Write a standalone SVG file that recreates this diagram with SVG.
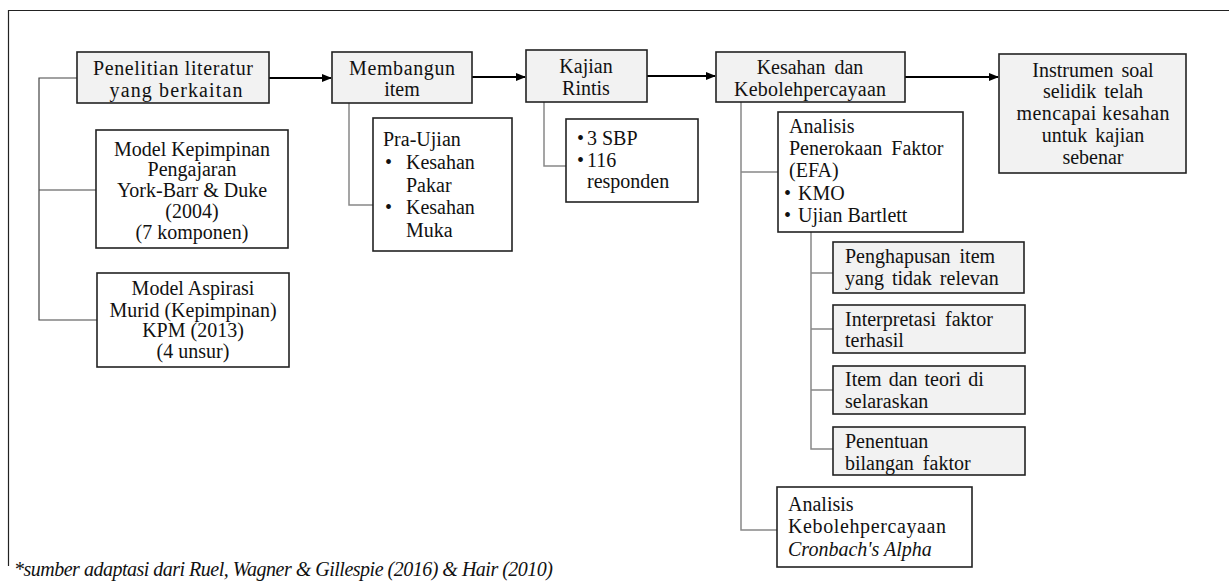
<svg xmlns="http://www.w3.org/2000/svg" width="1229" height="581" viewBox="0 0 1229 581">
<defs>
<marker id="ah" markerWidth="10" markerHeight="8" refX="9" refY="4" orient="auto" markerUnits="userSpaceOnUse">
<path d="M0,0 L10,4 L0,8 Z" fill="#000"/>
</marker>
<style>
text{font-size:20px;fill:#111}
.c{text-anchor:middle}
.g{fill:#f2f2f2;stroke:#222;stroke-width:1.6}
.w{fill:#fff;stroke:#222;stroke-width:1.6}
.arr{stroke:#000;stroke-width:2;fill:none;marker-end:url(#ah)}
.ln{stroke:#888;stroke-width:1.5;fill:none}
.ld{stroke:#444;stroke-width:1.2;fill:none}
.i{font-style:italic}
</style>
</defs>
<rect width="1229" height="581" fill="#fff"/>
<path d="M8.5,566 L8.5,10.5 L1240,10.5" fill="none" stroke="#222" stroke-width="1.2"/>

<g id="connectors">
<path class="arr" d="M269,78 L331,78"/>
<path class="arr" d="M472,77 L525,77"/>
<path class="arr" d="M647,76 L715,76"/>
<path class="arr" d="M905,77 L998,77"/>
<path class="ld" d="M77,78 L39,78 L39,320 L97,320 M39,190 L96,190"/>
<path class="ln" d="M349,103 L349,205 L373,205"/>
<path class="ln" d="M544,102 L544,166 L566,166"/>
<path class="ln" d="M741,102 L741,530 L777,530 M741,172 L778,172"/>
<path class="ln" d="M811,232 L811,449 L833,449 M811,273 L833,273 M811,329 L833,329 M811,390 L833,390"/>
</g>

<g font-family="'Liberation Serif', 'Times New Roman', Times, serif">
<g id="n-penelitian"><rect class="g" x="77" y="52" width="192" height="51"/>
<text class="c" x="173" y="75" textLength="160" lengthAdjust="spacing">Penelitian literatur</text>
<text class="c" x="176" y="97" textLength="133" lengthAdjust="spacing">yang berkaitan</text></g>

<g id="n-kepimpinan"><rect class="w" x="96" y="130" width="192" height="118"/>
<text class="c" x="192" y="156" textLength="156" lengthAdjust="spacing">Model Kepimpinan</text>
<text class="c" x="192" y="176">Pengajaran</text>
<text class="c" x="192" y="197">York-Barr &amp; Duke</text>
<text class="c" x="192" y="218">(2004)</text>
<text class="c" x="192" y="239">(7 komponen)</text></g>

<g id="n-aspirasi"><rect class="w" x="97" y="273" width="192" height="94"/>
<text class="c" x="193" y="295">Model Aspirasi</text>
<text class="c" x="193" y="317">Murid (Kepimpinan)</text>
<text class="c" x="193" y="337">KPM (2013)</text>
<text class="c" x="193" y="358">(4 unsur)</text></g>

<g id="n-membangun"><rect class="g" x="332" y="52" width="140" height="51"/>
<text class="c" x="402" y="75" textLength="106" lengthAdjust="spacing">Membangun</text>
<text class="c" x="402" y="96">item</text></g>

<g id="n-praujian"><rect class="w" x="373" y="118" width="139" height="133"/>
<text x="383" y="146">Pra-Ujian</text>
<text x="385" y="169">•</text><text x="406" y="169">Kesahan</text>
<text x="406" y="192">Pakar</text>
<text x="385" y="214">•</text><text x="406" y="214">Kesahan</text>
<text x="406" y="237">Muka</text></g>

<g id="n-kajian"><rect class="g" x="526" y="50" width="121" height="52"/>
<text class="c" x="586" y="73">Kajian</text>
<text class="c" x="586" y="95">Rintis</text></g>

<g id="n-sbp"><rect class="w" x="566" y="119" width="132" height="83"/>
<text x="577" y="145">•</text><text x="587" y="145">3 SBP</text>
<text x="577" y="167">•</text><text x="587" y="167">116</text>
<text x="587" y="188">responden</text></g>

<g id="n-kesahan"><rect class="g" x="716" y="52" width="189" height="50"/>
<text class="c" x="810" y="74" word-spacing="4">Kesahan dan</text>
<text class="c" x="810" y="96" textLength="152" lengthAdjust="spacing">Kebolehpercayaan</text></g>

<g id="n-instrumen"><rect class="g" x="999" y="54" width="187" height="119"/>
<text class="c" x="1093" y="77" word-spacing="3">Instrumen soal</text>
<text class="c" x="1093" y="98" word-spacing="3">selidik telah</text>
<text class="c" x="1093" y="120" textLength="153" lengthAdjust="spacing">mencapai kesahan</text>
<text class="c" x="1093" y="142" word-spacing="3">untuk kajian</text>
<text class="c" x="1093" y="164">sebenar</text></g>

<g id="n-efa"><rect class="w" x="778" y="112" width="185" height="120"/>
<text x="789" y="133">Analisis</text>
<text x="789" y="155" word-spacing="4">Penerokaan Faktor</text>
<text x="789" y="177">(EFA)</text>
<text x="784" y="200">•</text><text x="798" y="200">KMO</text>
<text x="784" y="222">•</text><text x="798" y="222">Ujian Bartlett</text></g>

<g id="n-penghapusan"><rect class="g" x="833" y="242" width="191" height="51"/>
<text x="845" y="263" word-spacing="4">Penghapusan item</text>
<text x="845" y="285" word-spacing="3">yang tidak relevan</text></g>

<g id="n-interpretasi"><rect class="g" x="833" y="305" width="192" height="48"/>
<text x="845" y="326" word-spacing="4">Interpretasi faktor</text>
<text x="845" y="347">terhasil</text></g>

<g id="n-item"><rect class="g" x="833" y="366" width="192" height="48"/>
<text x="845" y="386" word-spacing="2">Item dan teori di</text>
<text x="845" y="408">selaraskan</text></g>

<g id="n-penentuan"><rect class="g" x="833" y="427" width="192" height="48"/>
<text x="845" y="448">Penentuan</text>
<text x="845" y="470" word-spacing="4">bilangan faktor</text></g>

<g id="n-reliability"><rect class="w" x="777" y="487" width="195" height="80"/>
<text x="788" y="511">Analisis</text>
<text x="788" y="533" textLength="158" lengthAdjust="spacing">Kebolehpercayaan</text>
<text class="i" x="788" y="556">Cronbach's Alpha</text></g>

<text class="i" x="14" y="576" font-size="16.5" textLength="539" lengthAdjust="spacing">*sumber adaptasi dari Ruel, Wagner &amp; Gillespie (2016) &amp; Hair (2010)</text>
</g>
</svg>
